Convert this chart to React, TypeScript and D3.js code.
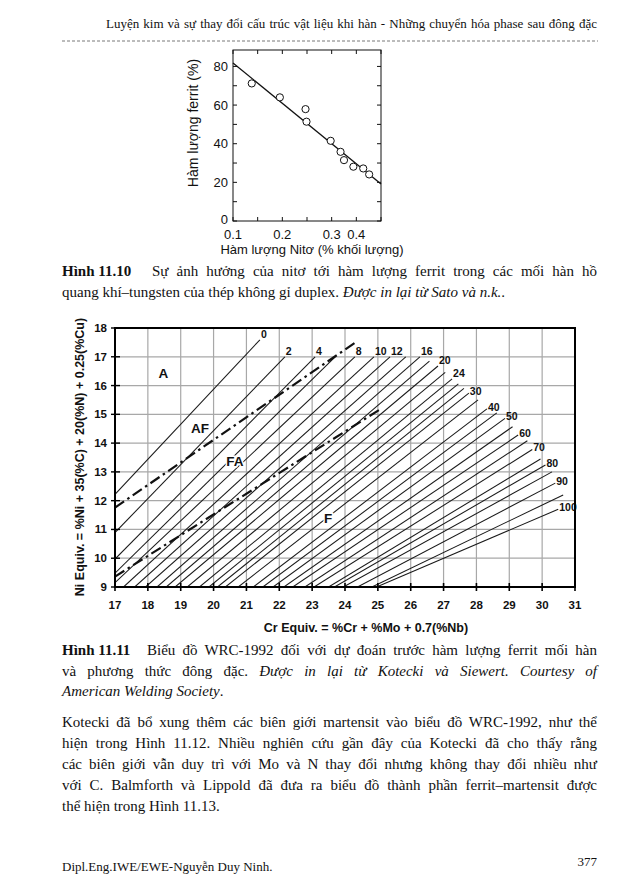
import React, { useLayoutEffect, useRef } from "react";
import * as d3 from "d3";

// Fig 11.10 - nitrogen vs ferrite (Sato et al.)
const nitrogen = [0.138, 0.195, 0.247, 0.249, 0.298, 0.318, 0.325, 0.344, 0.364, 0.376];
const ferrite = [71.2, 64.0, 57.9, 51.4, 41.5, 35.8, 31.5, 28.1, 27.2, 24.1];
const fitN = [0.1, 0.4];
const fitFerrite = [81.8, 19.1];
const ferriteTicks = [0, 20, 40, 60, 80];
// the printed "0.4" label sits at the 0.35 tick in the source figure
const nTickValues = [0.1, 0.2, 0.3, 0.35];
const nTickLabels = ["0.1", "0.2", "0.3", "0.4"];

// Fig 11.11 - WRC-1992 diagram, iso-ferrite lines (FN)
const fnValues = [0, 2, 4, 6, 8, 10, 12, 14, 16, 18, 20, 22, 24, 26, 28, 30, 35, 40, 45, 50, 55, 60, 65, 70, 75, 80, 85, 90, 95, 100];
const fnLowCr = [17, 17, 17, 17, 17, 17.26, 17.6, 17.93, 18.28, 18.56, 18.83, 19.2, 19.57, 19.86, 20.12, 20.36, 20.75, 21.21, 21.5, 21.81, 22.14, 22.41, 22.78, 23.06, 23.5, 23.68, 23.95, 24.38, 24.82, 24.96];
const fnLowNi = [12.22, 10.89, 9.97, 9.48, 9.15, 9, 9, 9, 9, 9, 9, 9, 9, 9, 9, 9, 9, 9, 9, 9, 9, 9, 9, 9, 9, 9, 9, 9, 9, 9];
const fnTopCr = [21.41, 22.17, 23.09, 23.7, 24.3, 24.88, 25.37, 25.85, 26.28, 26.57, 26.83, 27.05, 27.26, 27.45, 27.62, 27.77, 28.05, 28.32, 28.62, 28.87, 29.1, 29.27, 29.55, 29.7, 29.95, 30.1, 30.3, 30.4, 30.64, 30.49];
const fnTopNi = [17.59, 17, 17, 17, 17, 17, 17, 17, 17, 16.85, 16.68, 16.46, 16.23, 16.06, 15.9, 15.74, 15.5, 15.19, 15.05, 14.86, 14.57, 14.28, 14.08, 13.78, 13.45, 13.24, 13.0, 12.61, 12.2, 11.7];
const fnLabeled = [0, 2, 4, 8, 10, 12, 16, 20, 24, 30, 40, 50, 60, 70, 80, 90, 100];

// solidification mode boundaries (dash-dot)
const modeCrUpper = [17, 24.37];
const modeNiUpper = [11.76, 17.54];
const modeCrLower = [17, 25.12];
const modeNiLower = [9.36, 15.21];

const regionNames = ["A", "AF", "FA", "F"];
const regionCr = [18.47, 19.59, 20.65, 23.49];
const regionNi = [16.43, 14.52, 13.36, 11.39];

const crTicks = d3.range(17, 32);
const niTicks = d3.range(9, 19);

const SANS = "'Liberation Sans', Arial, sans-serif";
const SERIF = "'Liberation Serif', 'Times New Roman', serif";

// justified line: spread the free space over the word gaps
const JText: React.FC<{ x: number; y: number; width: number; children: React.ReactNode }> = ({ x, y, width, children }) => {
  const ref = useRef<SVGTextElement | null>(null);
  useLayoutEffect(() => {
    const el = ref.current;
    if (!el) return;
    el.style.wordSpacing = "0px";
    const natural = el.getComputedTextLength();
    const gaps = (el.textContent || "").trim().split(/\s+/).length - 1;
    if (gaps > 0) el.style.wordSpacing = `${(width - natural) / gaps}px`;
  });
  return (
    <text ref={ref} x={x} y={y}>
      {children}
    </text>
  );
};

const NitrogenChart: React.FC = () => {
  const x = d3.scaleLinear().domain([0.1, 0.4]).range([233, 381]);
  const y = d3.scaleLinear().domain([0, 88.5]).range([221, 50]);
  const fit = d3
    .line<number>()
    .x((_, i) => x(fitN[i]))
    .y((d) => y(d));
  const minorY = d3.range(0, 90, 10);
  const minorX = d3.range(0.1, 0.4001, 0.05);

  return (
    <g fontFamily={SANS} fill="#111">
      <rect x={233} y={50} width={148} height={171} fill="none" stroke="#111" strokeWidth={1} />
      {minorY.map((v) => (
        <g key={"yt" + v} stroke="#111" strokeWidth={1}>
          <line x1={233} x2={237} y1={y(v)} y2={y(v)} />
          <line x1={381} x2={377} y1={y(v)} y2={y(v)} />
        </g>
      ))}
      {minorX.map((v) => (
        <g key={"xt" + v} stroke="#111" strokeWidth={1}>
          <line x1={x(v)} x2={x(v)} y1={221} y2={217} />
          <line x1={x(v)} x2={x(v)} y1={50} y2={54} />
        </g>
      ))}
      {ferriteTicks.map((v) => (
        <text key={"yl" + v} x={228} y={y(v)} dy={v === 0 ? "0.2em" : "0.35em"} textAnchor="end" fontSize={13}>
          {v}
        </text>
      ))}
      {nTickValues.map((v, i) => (
        <text key={"xl" + i} x={x(v)} y={239} textAnchor="middle" fontSize={13}>
          {nTickLabels[i]}
        </text>
      ))}
      <path d={fit(fitFerrite) || ""} fill="none" stroke="#111" strokeWidth={1.3} />
      {nitrogen.map((n, i) => (
        <circle key={i} cx={x(n)} cy={y(ferrite[i])} r={3.6} fill="#fff" stroke="#111" strokeWidth={1} />
      ))}
      <text x={312} y={254} textAnchor="middle" fontSize={13}>
        Hàm lượng Nitơ (% khối lượng)
      </text>
      <text transform="translate(198,123) rotate(-90)" textAnchor="middle" fontSize={14}>
        Hàm lượng ferrit (%)
      </text>
    </g>
  );
};

const WrcChart: React.FC = () => {
  const x = d3.scaleLinear().domain([17, 31]).range([115, 575]);
  const y = d3.scaleLinear().domain([9, 18]).range([587, 328]);
  const seg = d3
    .line<[number, number]>()
    .x((d) => x(d[0]))
    .y((d) => y(d[1]));

  return (
    <g fontFamily={SANS} fill="#111">
      <defs>
        <clipPath id="wrc-clip">
          <rect x={115} y={328} width={460} height={259} />
        </clipPath>
      </defs>
      {crTicks.slice(1, -1).map((c) => (
        <line key={"gx" + c} x1={x(c)} x2={x(c)} y1={328} y2={587} stroke="#a8a8a8" strokeWidth={1.2} />
      ))}
      {niTicks.slice(1, -1).map((n) => (
        <line key={"gy" + n} x1={115} x2={575} y1={y(n)} y2={y(n)} stroke="#a8a8a8" strokeWidth={1.2} />
      ))}
      <g clipPath="url(#wrc-clip)">
        {fnValues.map((fn, i) => (
          <path
            key={"fn" + fn}
            d={seg([[fnLowCr[i], fnLowNi[i]], [fnTopCr[i], fnTopNi[i]]]) || ""}
            stroke="#1a1a1a"
            strokeWidth={1.05}
            fill="none"
          />
        ))}
      </g>
      <path
        d={seg([[modeCrUpper[0], modeNiUpper[0]], [modeCrUpper[1], modeNiUpper[1]]]) || ""}
        stroke="#111"
        strokeWidth={2.2}
        strokeDasharray="11,4,2.5,4"
        fill="none"
      />
      <path
        d={seg([[modeCrLower[0], modeNiLower[0]], [modeCrLower[1], modeNiLower[1]]]) || ""}
        stroke="#111"
        strokeWidth={2.2}
        strokeDasharray="11,4,2.5,4"
        fill="none"
      />
      {fnValues.map((fn, i) =>
        fnLabeled.includes(fn) ? (
          <text
            key={"lab" + fn}
            x={x(fnTopCr[i]) + 1}
            y={y(fnTopNi[i]) + (fn <= 24 ? -2 : 2)}
            fontSize={10.5}
            fontWeight="bold"
          >
            {fn}
          </text>
        ) : null
      )}
      {regionNames.map((r, i) => (
        <text
          key={r}
          x={x(regionCr[i])}
          y={y(regionNi[i])}
          dy="0.36em"
          textAnchor="middle"
          fontSize={13.5}
          fontWeight="bold"
          stroke="#fff"
          strokeWidth={3}
          paintOrder="stroke"
        >
          {r}
        </text>
      ))}
      <rect x={115} y={328} width={460} height={259} fill="none" stroke="#000" strokeWidth={2} />
      {crTicks.map((c) => (
        <line key={"tx" + c} x1={x(c)} x2={x(c)} y1={583} y2={591} stroke="#000" strokeWidth={1.6} />
      ))}
      {niTicks.map((n) => (
        <line key={"ty" + n} x1={111} x2={120} y1={y(n)} y2={y(n)} stroke="#000" strokeWidth={1.4} />
      ))}
      {crTicks.map((c) => (
        <text key={"lx" + c} x={x(c)} y={609} textAnchor="middle" fontSize={11.5} fontWeight="bold">
          {c}
        </text>
      ))}
      {niTicks.map((n) => (
        <text key={"ly" + n} x={107} y={y(n)} dy="0.35em" textAnchor="end" fontSize={11.5} fontWeight="bold">
          {n}
        </text>
      ))}
      <text x={366} y={632} textAnchor="middle" fontSize={12.5} fontWeight="bold">
        Cr Equiv. = %Cr + %Mo + 0.7(%Nb)
      </text>
      <text transform="translate(84,457) rotate(-90)" textAnchor="middle" fontSize={12.5} fontWeight="bold">
        Ni Equiv. = %Ni + 35(%C) + 20(%N) + 0.25(%Cu)
      </text>
    </g>
  );
};

const App: React.FC = () => {
  return (
    <div style={{ position: "absolute", left: 0, top: 0 }}>
      <svg width={624} height={888} viewBox="0 0 624 888" style={{ display: "block", background: "#fff" }}>
        <g fontFamily={SERIF} fill="#111" fontSize={13}>
          <JText x={106} y={28} width={491}>
            Luyện kim và sự thay đổi cấu trúc vật liệu khi hàn - Những chuyển hóa phase sau đông đặc
          </JText>
          <line x1={62} x2={598} y1={41} y2={41} stroke="#555" strokeWidth={0.8} strokeDasharray="3,2" />
        </g>

        <NitrogenChart />

        <g fontFamily={SERIF} fill="#111" fontSize={15}>
          <text x={62} y={276} fontWeight="bold">Hình 11.10</text>
          <JText x={152} y={276} width={445}>
            Sự ảnh hưởng của nitơ tới hàm lượng ferrit trong các mối hàn hồ
          </JText>
          <text x={62} y={297}>
            quang khí–tungsten của thép không gỉ duplex. <tspan fontStyle="italic">Được in lại từ Sato và n.k.</tspan>.
          </text>
        </g>

        <WrcChart />

        <g fontFamily={SERIF} fill="#111" fontSize={15}>
          <text x={62} y={655} fontWeight="bold">Hình 11.11</text>
          <JText x={147} y={655} width={450}>
            Biểu đồ WRC-1992 đối với dự đoán trước hàm lượng ferrit mối hàn
          </JText>
          <JText x={62} y={676} width={535}>
            và phương thức đông đặc. <tspan fontStyle="italic">Được in lại từ Kotecki và Siewert. Courtesy of</tspan>
          </JText>
          <text x={62} y={696}>
            <tspan fontStyle="italic">American  Welding Society</tspan>.
          </text>

          <JText x={62} y={727} width={535}>
            Kotecki đã bổ xung thêm các biên giới martensit vào biểu đồ WRC-1992, như thể
          </JText>
          <JText x={62} y={748} width={535}>
            hiện trong Hình 11.12. Nhiều nghiên cứu gần đây của Kotecki đã cho thấy rằng
          </JText>
          <JText x={62} y={769} width={535}>
            các biên giới vẫn duy trì với Mo và N thay đổi nhưng không thay đổi nhiều như
          </JText>
          <JText x={62} y={790} width={535}>
            với C. Balmforth và Lippold đã đưa ra biểu đồ thành phần ferrit–martensit được
          </JText>
          <text x={62} y={811}>thể hiện trong Hình 11.13.</text>
        </g>

        <g fontFamily={SERIF} fill="#111" fontSize={13}>
          <text x={62} y={871}>Dipl.Eng.IWE/EWE-Nguyễn Duy Ninh.</text>
          <text x={597} y={866} textAnchor="end">377</text>
        </g>
      </svg>
    </div>
  );
};

export default App;
